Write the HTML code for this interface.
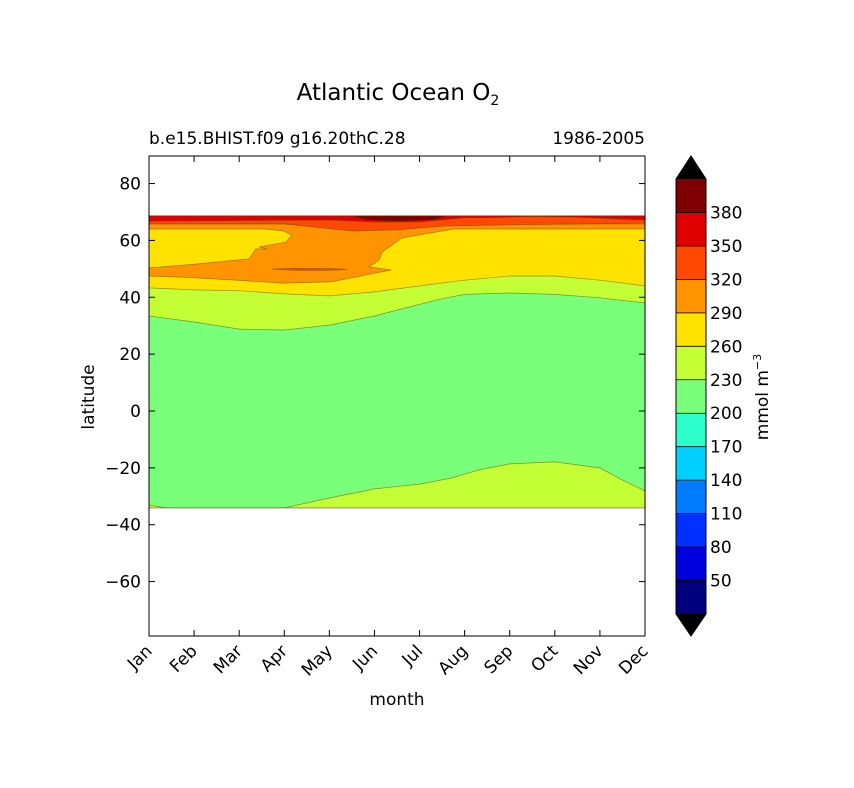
<!DOCTYPE html>
<html><head><meta charset="utf-8"><style>
html,body{margin:0;padding:0;background:#fff;}
svg{display:block;font-family:"DejaVu Sans","Liberation Sans",sans-serif;}
</style></head><body>
<svg id="c" width="854" height="788" viewBox="0 0 854 788">
<text x="398" y="100" font-size="23" text-anchor="middle">Atlantic Ocean O<tspan font-size="14" dy="5">2</tspan></text>
<text x="149" y="144" font-size="17">b.e15.BHIST.f09 g16.20thC.28</text>
<text x="645" y="144" font-size="17" text-anchor="end">1986-2005</text>
<g id="plot"></g>
<g id="axes"></g>
<text transform="translate(94,397) rotate(-90)" font-size="17" text-anchor="middle">latitude</text>
<text x="397" y="705" font-size="17" text-anchor="middle">month</text>
<g id="cbar"></g>
<text transform="translate(768,397) rotate(-90)" font-size="17" text-anchor="middle">mmol m<tspan font-size="11" dy="-7">−3</tspan></text>
</svg>
<script>
const months=["Jan","Feb","Mar","Apr","May","Jun","Jul","Aug","Sep","Oct","Nov","Dec"];
const latTicks=[80,60,40,20,0,-20,-40,-60];
const levels=[20,50,80,110,140,170,200,230,260,290,320,350,380,410];
const levelLabels=[50,80,110,140,170,200,230,260,290,320,350,380];
const levelColors=["#00007f","#0000df","#0030ff","#007cff","#00d0ff","#2cffcc","#7aff7a","#c4ff36","#ffe200","#ff9400","#ff4800","#e00000","#7f0000"];
const dataTop=68.6, dataBottom=-34.1;
const greenTop=[[0,33.4],[1,31.3],[2,28.8],[3,28.5],[4,30.2],[5,33.4],[5.5,35.5],[6,37.5],[6.5,39.5],[7,41],[8,41.5],[9,41],[10,39.8],[11,38]];
const southBoundary=[[0,-33.1],[0.4,-34.1],[3,-34.1],[4,-30.6],[5,-27.4],[6,-25.7],[6.7,-23.6],[7.3,-20.8],[8,-18.6],[9,-17.9],[10,-20],[10.5,-24.3],[11,-28.1]];
const yellowBottom=[[0,43.3],[1,42.6],[2,42.3],[3,41.2],[4,40.5],[5,41.9],[6,44],[7,46],[8,47.5],[9,47.5],[10,46],[11,44]];
const orangePoly=[[0,65.8],[11,65.8],[11,64],[6.76,64],[5.61,60.9],[5.17,55.9],[5.1,53.1],[4.88,50.7],[5.37,49.6],[4.04,45.4],[2.95,45],[1.84,46.1],[0.73,47.1],[0,47.5],[0,50.3],[1.06,51.7],[2.22,53.5],[2.37,57],[2.62,57],[2.44,57.7],[3.04,59.4],[3.17,61.9],[2.99,63.3],[2.59,64],[0,64]];
const redOrangeLens=[[2.73,49.9],[3.2,49.5],[4.0,49.5],[4.4,49.8],[4.0,50.1],[3.2,50.2]];
const redOrangeBottom=[[0,65.8],[3,65.8],[4.5,63.3],[5.5,63.7],[6.5,65],[7.5,65.4],[11,66.1]];
const redBottom=[[0,66.8],[4,67.2],[5,66.5],[6,66.5],[7,68],[7.5,68],[8.5,68.4],[9.5,68.2],[10.5,67.5],[11,67.2]];
const darkRedPoly=[[4.5,68.6],[4.8,67.3],[5.5,66.8],[6.3,67.3],[6.6,68.6]];

const X0=149,X1=645,Y0=156,Y1=636;
const xs=m=>X0+m*(X1-X0)/11;
const ys=l=>411-l*2.843;
const NS="http://www.w3.org/2000/svg";
function mk(tag,attrs,parent){const e=document.createElementNS(NS,tag);for(const k in attrs)e.setAttribute(k,attrs[k]);parent.appendChild(e);return e;}
const plot=document.getElementById('plot'),axes=document.getElementById('axes'),cbar=document.getElementById('cbar');
function pts(a){return a.map(p=>xs(p[0]).toFixed(1)+","+ys(p[1]).toFixed(1)).join(" ");}
function poly(a,color,name){const p=mk('polygon',{points:pts(a),fill:color,stroke:'rgba(90,60,0,0.55)','stroke-width':0.7},plot);

}
poly([[0,dataTop],[11,dataTop],[11,dataBottom],[0,dataBottom]],levelColors[6],'band-200-230');
poly(southBoundary.concat([[11,dataBottom],[0,dataBottom]]),levelColors[7],'band-230-260-south');
poly(greenTop.concat([[11,dataTop],[0,dataTop]]),levelColors[7],'band-230-260-north');
poly(yellowBottom.concat([[11,dataTop],[0,dataTop]]),levelColors[8],'band-260-290');
poly(orangePoly,levelColors[9],'band-290-320');
poly(redOrangeLens,levelColors[10],'band-320-350-lens');
poly(redOrangeBottom.concat([[11,dataTop],[0,dataTop]]),levelColors[10],'band-320-350');
poly(redBottom.concat([[11,dataTop],[0,dataTop]]),levelColors[11],'band-350-380');
poly(darkRedPoly,levelColors[12],'band-380-410');
let f=mk('rect',{x:X0,y:Y0,width:X1-X0,height:Y1-Y0,fill:'none',stroke:'#000','stroke-width':1},axes);


latTicks.forEach(v=>{const y=ys(v);
mk('line',{x1:X0,x2:X0+6,y1:y,y2:y,stroke:'#000'},axes);
mk('line',{x1:X1,x2:X1-6,y1:y,y2:y,stroke:'#000'},axes);
const t=mk('text',{x:X0-8,y:y+6,'font-size':17,'text-anchor':'end'},axes);


t.textContent=v<0?'−'+(-v):String(v);});
months.forEach((m,i)=>{const x=xs(i);
mk('line',{x1:x,x2:x,y1:Y1,y2:Y1-6,stroke:'#000'},axes);
mk('line',{x1:x,x2:x,y1:Y0,y2:Y0+6,stroke:'#000'},axes);
const t=mk('text',{transform:`translate(${x+4},${Y1+16}) rotate(-45)`,'font-size':17,'text-anchor':'end'},axes);


t.textContent=m;});
const CX=676,CW=30,CT=179,CB=614;
const nL=levels.length-1;const cy=v=>CB-(v-levels[0])/(levels[nL]-levels[0])*(CB-CT);
for(let i=0;i<nL;i++){const r=mk('rect',{x:CX,y:cy(levels[i+1]),width:CW,height:cy(levels[i])-cy(levels[i+1])+0.5,fill:levelColors[i]},cbar);

}
let tu=mk('polygon',{points:`${CX},${CT} ${CX+CW},${CT} ${CX+CW/2},${Y0}`,fill:'#000'},cbar);


let td=mk('polygon',{points:`${CX},${CB} ${CX+CW},${CB} ${CX+CW/2},${Y1}`,fill:'#000'},cbar);


mk('polygon',{points:`${CX+CW/2},${Y0} ${CX+CW},${CT} ${CX+CW},${CB} ${CX+CW/2},${Y1} ${CX},${CB} ${CX},${CT}`,fill:'none',stroke:'#000'},cbar);
levelLabels.forEach(v=>{const y=cy(v);
mk('line',{x1:CX,x2:CX+CW,y1:y,y2:y,stroke:'#000','stroke-width':0.8},cbar);
const t=mk('text',{x:CX+CW+4,y:y+6,'font-size':17},cbar);


t.textContent=v;});
</script>
</body></html>
